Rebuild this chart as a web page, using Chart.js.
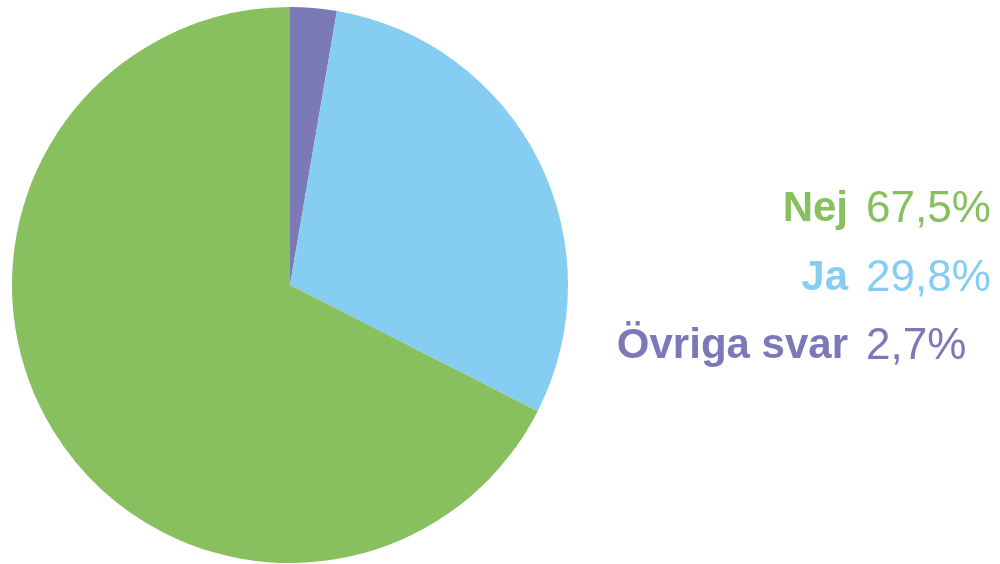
<!DOCTYPE html>
<html>
<head>
<meta charset="utf-8">
<script src="https://cdn.jsdelivr.net/npm/chart.js@4"></script>
<style>
  html, body { margin: 0; padding: 0; background: #ffffff; }
  #wrap { position: relative; width: 1000px; height: 564px; }
  #c { position: absolute; left: 0; top: 0; }
  #legend { position: absolute; left: 560px; top: 182px; width: 440px;
            font-family: "Liberation Sans", Arial, Helvetica, sans-serif; }
  .row { position: absolute; left: 0; width: 440px; height: 50px; }
  .lab { position: absolute; right: 152px; bottom: 0; font-size: 42px; font-weight: bold; white-space: nowrap; line-height: 50px; }
  .val { position: absolute; left: 306px; bottom: 0; font-size: 44px; font-weight: normal; white-space: nowrap; line-height: 50px; }
</style>
</head>
<body>
<div id="wrap">
  <canvas id="c" width="1000" height="564"></canvas>
  <div id="legend"></div>
</div>
<script>
const categories = ["Nej", "Ja", "Övriga svar"];
const values = [67.5, 29.8, 2.7];
const valueLabels = ["67,5%", "29,8%", "2,7%"];
const colors = ["#88bf5f", "#85cef1", "#7c79b9"];

// slice order clockwise from 12 o'clock: Övriga svar, Ja, Nej
const order = [2, 1, 0];

const ctx = document.getElementById('c').getContext('2d');
new Chart(ctx, {
  type: 'pie',
  data: {
    labels: order.map(i => categories[i]),
    datasets: [{
      data: order.map(i => values[i]),
      backgroundColor: order.map(i => colors[i]),
      borderWidth: 0
    }]
  },
  options: {
    responsive: false,
    animation: false,
    layout: { padding: { left: 12, top: 6, bottom: 0, right: 432 } },
    plugins: { legend: { display: false }, tooltip: { enabled: false } }
  }
});

const legend = document.getElementById('legend');
const rowTops = [0, 69, 137];
categories.forEach((cat, i) => {
  const row = document.createElement('div');
  row.className = 'row';
  row.style.top = rowTops[i] + 'px';
  row.style.color = colors[i];
  const l = document.createElement('span');
  l.className = 'lab';
  l.textContent = cat;
  const v = document.createElement('span');
  v.className = 'val';
  v.textContent = valueLabels[i];
  row.appendChild(l);
  row.appendChild(v);
  legend.appendChild(row);
});
</script>
</body>
</html>
